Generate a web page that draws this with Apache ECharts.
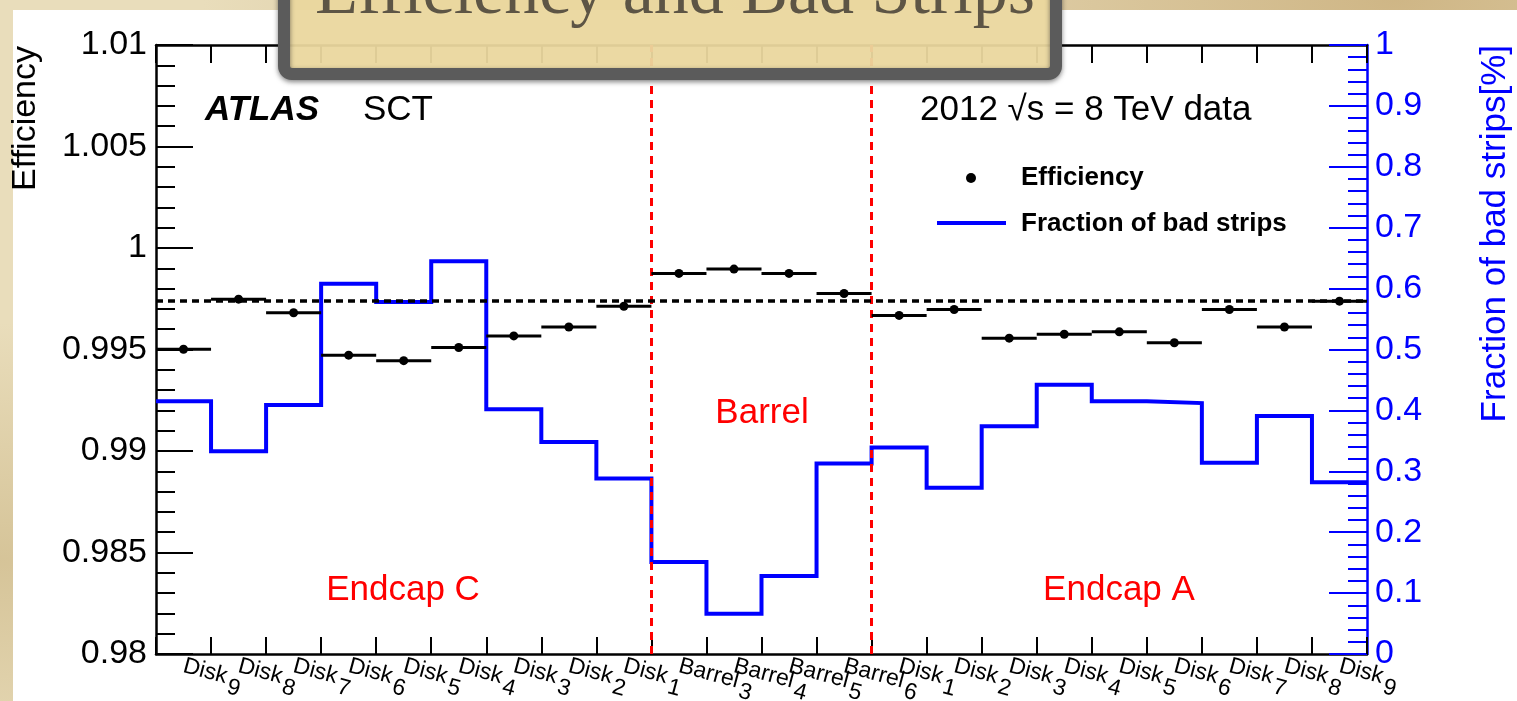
<!DOCTYPE html>
<html>
<head>
<meta charset="utf-8">
<title>Efficiency and Bad Strips</title>
<script src="https://cdn.jsdelivr.net/npm/echarts@6/dist/echarts.min.js"></script>
<style>
  html, body { margin: 0; padding: 0; width: 1517px; height: 701px; overflow: hidden; }
  body {
    background-color: #e9ddbb;
    background-image:
      radial-gradient(ellipse at 92% 0%, rgba(185, 150, 90, 0.55), rgba(185, 150, 90, 0) 35%),
      radial-gradient(ellipse at 0% 80%, rgba(190, 165, 110, 0.45), rgba(190, 165, 110, 0) 30%),
      radial-gradient(circle at 30% 2%, rgba(200, 180, 130, 0.35), rgba(200, 180, 130, 0) 20%);
  }
  #paper { position: absolute; left: 13px; top: 10px; right: 0; bottom: 0; background: #ffffff; }
  #chart { position: absolute; left: 0; top: 0; width: 1517px; height: 701px; }
</style>
</head>
<body>
<div id="paper"></div>
<div id="chart"></div>
<script>
// SCT modules, ordered Endcap C (Disk 9 -> 1), Barrel 3 -> 6, Endcap A (Disk 1 -> 9)
const categories = [
  'Disk 9', 'Disk 8', 'Disk 7', 'Disk 6', 'Disk 5', 'Disk 4', 'Disk 3', 'Disk 2', 'Disk 1',
  'Barrel 3', 'Barrel 4', 'Barrel 5', 'Barrel 6',
  'Disk 1', 'Disk 2', 'Disk 3', 'Disk 4', 'Disk 5', 'Disk 6', 'Disk 7', 'Disk 8', 'Disk 9'
];

// Hit efficiency per layer (left axis)
const efficiency = [
  0.99501, 0.99748, 0.99681, 0.99472, 0.99445, 0.99510, 0.99567, 0.99611, 0.99713,
  0.99875, 0.99896, 0.99875, 0.99776,
  0.99668, 0.99697, 0.99556, 0.99575, 0.99587, 0.99533, 0.99697, 0.99611, 0.99738
];

// Fraction of bad strips per layer, in % (right axis)
const badStripFraction = [
  0.415, 0.333, 0.409, 0.608, 0.578, 0.645, 0.402, 0.348, 0.288,
  0.151, 0.066, 0.128, 0.313,
  0.339, 0.273, 0.374, 0.442, 0.415, 0.412, 0.314, 0.391, 0.282
];

// Overall mean efficiency
const meanEfficiency = 0.9974;

// Detector regions and how many layers each contains
const regionNames = ['Endcap C', 'Barrel', 'Endcap A'];
const regionSizes = [9, 4, 9];

const SANS = '"Liberation Sans", Arial, Helvetica, sans-serif';
const BLUE = '#0000ff';
const RED = '#ff0000';

// Bin edges where one region ends and the next begins
const regionEdges = [];
let acc = 0;
for (let r = 0; r < regionSizes.length - 1; r++) { acc += regionSizes[r]; regionEdges.push(acc); }

// Histogram outline: each bin contributes its left and right edge at its height
const stepPoints = [];
badStripFraction.forEach((v, i) => { stepPoints.push([i, v]); stepPoints.push([i + 1, v]); });

const chart = echarts.init(document.getElementById('chart'), null, { renderer: 'canvas', width: 1517, height: 701 });

const option = {
  animation: false,
  backgroundColor: 'transparent',
  grid: { left: 156, right: 150, top: 45, bottom: 47, containLabel: false, outerBoundsMode: 'none' },
  xAxis: [
    {
      type: 'category', data: categories, position: 'bottom', boundaryGap: true,
      axisLine: { show: true, onZero: false, lineStyle: { color: '#000', width: 2.5 } },
      axisTick: { show: true, inside: true, length: 17, interval: 0, lineStyle: { color: '#000', width: 2 } },
      axisLabel: {
        interval: 0, rotate: -15, margin: 12,
        formatter: (v) => {
          const k = v.lastIndexOf(' ');
          return '{w|' + v.slice(0, k) + '}{n|' + v.slice(k + 1) + '}';
        },
        rich: {
          w: { fontSize: 23, fontFamily: SANS, color: '#000', verticalAlign: 'top', lineHeight: 24 },
          n: { fontSize: 23, fontFamily: SANS, color: '#000', verticalAlign: 'top', lineHeight: 24, padding: [9, 0, 0, 3] }
        }
      },
      splitLine: { show: false }
    },
    { type: 'value', min: 0, max: categories.length, show: false, position: 'bottom' },
    {
      type: 'category', data: categories, position: 'top', boundaryGap: true,
      axisLine: { show: true, onZero: false, lineStyle: { color: '#000', width: 2.5 } },
      axisTick: { show: true, inside: true, length: 18, interval: 0, lineStyle: { color: '#000', width: 2 } },
      axisLabel: { show: false },
      splitLine: { show: false }
    }
  ],
  yAxis: [
    {
      type: 'value', min: 0.98, max: 1.01, interval: 0.005, position: 'left',
      axisLine: { show: true, onZero: false, lineStyle: { color: '#000', width: 2.5 } },
      axisTick: { show: true, inside: true, length: 37, lineStyle: { color: '#000', width: 2 } },
      minorTick: { show: true, splitNumber: 5, length: 19, lineStyle: { color: '#000', width: 2 } },
      axisLabel: {
        margin: 9, fontSize: 34, fontFamily: SANS, color: '#000',
        formatter: (v) => String(parseFloat(v.toFixed(3)))
      },
      splitLine: { show: false }, minorSplitLine: { show: false }
    },
    {
      type: 'value', min: 0, max: 1, interval: 0.1, position: 'right',
      axisLine: { show: true, onZero: false, lineStyle: { color: BLUE, width: 2.5 } },
      axisTick: { show: true, inside: true, length: 38, lineStyle: { color: BLUE, width: 2 } },
      minorTick: { show: true, splitNumber: 5, length: 19, lineStyle: { color: BLUE, width: 2 } },
      axisLabel: {
        margin: 8, fontSize: 34, fontFamily: SANS, color: BLUE,
        formatter: (v) => String(parseFloat(v.toFixed(1)))
      },
      splitLine: { show: false }, minorSplitLine: { show: false }
    }
  ],
  series: [
    {
      name: 'Fraction of bad strips', type: 'line', xAxisIndex: 1, yAxisIndex: 1, z: 2,
      data: stepPoints, symbol: 'none', silent: true,
      lineStyle: { color: BLUE, width: 4, join: 'miter', cap: 'butt' }
    },
    {
      name: 'regions', type: 'line', xAxisIndex: 1, yAxisIndex: 1, z: 4, data: [],
      markLine: {
        silent: true, symbol: ['none', 'none'], label: { show: false }, precision: 6,
        lineStyle: { color: RED, type: [8, 6], width: 3 },
        data: regionEdges.map((x) => ({ xAxis: x }))
      }
    },
    {
      name: 'Efficiency', type: 'custom', xAxisIndex: 1, yAxisIndex: 0, z: 5,
      data: efficiency.map((v, i) => [i, v]),
      encode: { x: 0, y: 1 },
      renderItem: (params, api) => {
        const i = api.value(0);
        const v = api.value(1);
        const a = api.coord([i, v]);
        const b = api.coord([i + 1, v]);
        const c = api.coord([i + 0.5, v]);
        return {
          type: 'group',
          children: [
            { type: 'line', shape: { x1: a[0], y1: a[1], x2: b[0], y2: b[1] }, style: { stroke: '#000', lineWidth: 3 } },
            { type: 'circle', shape: { cx: c[0], cy: c[1], r: 4.5 }, style: { fill: '#000' } }
          ]
        };
      },
      markLine: {
        silent: true, symbol: ['none', 'none'], label: { show: false }, precision: 6,
        lineStyle: { color: '#000', type: [7, 5], width: 3.5 },
        data: [{ yAxis: meanEfficiency }]
      }
    }
  ],
  graphic: [
    // axis titles
    { type: 'text', x: 26, y: 46, rotation: Math.PI / 2, z: 10,
      style: { text: 'Efficiency', font: '34px ' + SANS, fill: '#000', align: 'right', verticalAlign: 'middle' } },
    { type: 'text', x: 1495, y: 45, rotation: Math.PI / 2, z: 10,
      style: { text: 'Fraction of bad strips[%]', font: '35px ' + SANS, fill: BLUE, align: 'right', verticalAlign: 'middle' } },
    // experiment labels
    { type: 'text', x: 205, y: 110, z: 10,
      style: { text: 'ATLAS', font: 'italic bold 35px ' + SANS, fill: '#000', align: 'left', verticalAlign: 'middle' } },
    { type: 'text', x: 363, y: 110, z: 10,
      style: { text: 'SCT', font: '35px ' + SANS, fill: '#000', align: 'left', verticalAlign: 'middle' } },
    { type: 'text', x: 920, y: 110, z: 10,
      style: { text: '2012 \u221As = 8 TeV data', font: '35px ' + SANS, fill: '#000', align: 'left', verticalAlign: 'middle' } },
    // legend
    { type: 'circle', z: 10, shape: { cx: 971, cy: 178, r: 5 }, style: { fill: '#000' } },
    { type: 'text', x: 1021, y: 178, z: 10,
      style: { text: 'Efficiency', font: 'bold 26px ' + SANS, fill: '#000', align: 'left', verticalAlign: 'middle' } },
    { type: 'line', z: 10, shape: { x1: 937, y1: 223, x2: 1006, y2: 223 }, style: { stroke: BLUE, lineWidth: 4 } },
    { type: 'text', x: 1021, y: 224, z: 10,
      style: { text: 'Fraction of bad strips', font: 'bold 26px ' + SANS, fill: '#000', align: 'left', verticalAlign: 'middle' } },
    // region names
    { type: 'text', x: 403, y: 590, z: 10,
      style: { text: regionNames[0], font: '35px ' + SANS, fill: RED, align: 'center', verticalAlign: 'middle' } },
    { type: 'text', x: 762, y: 413, z: 10,
      style: { text: regionNames[1], font: '35px ' + SANS, fill: RED, align: 'center', verticalAlign: 'middle' } },
    { type: 'text', x: 1119, y: 590, z: 10,
      style: { text: regionNames[2], font: '35px ' + SANS, fill: RED, align: 'center', verticalAlign: 'middle' } },
    // slide title plate
    { type: 'rect', z: 100,
      shape: { x: 284, y: -40, width: 772, height: 114, r: 8 },
      style: { fill: 'rgba(245, 225, 165, 0.9)', stroke: '#5b5b5b', lineWidth: 12,
               shadowBlur: 5, shadowColor: 'rgba(30, 30, 30, 0.55)', shadowOffsetY: 2 } },
    { type: 'text', x: 675, y: -5, z: 101,
      style: { text: 'Efficiency and Bad Strips', font: '70px "Liberation Serif", "DejaVu Serif", serif',
               fill: '#5d5545', align: 'center', verticalAlign: 'middle' } }
  ]
};

chart.setOption(option);
</script>
</body>
</html>
